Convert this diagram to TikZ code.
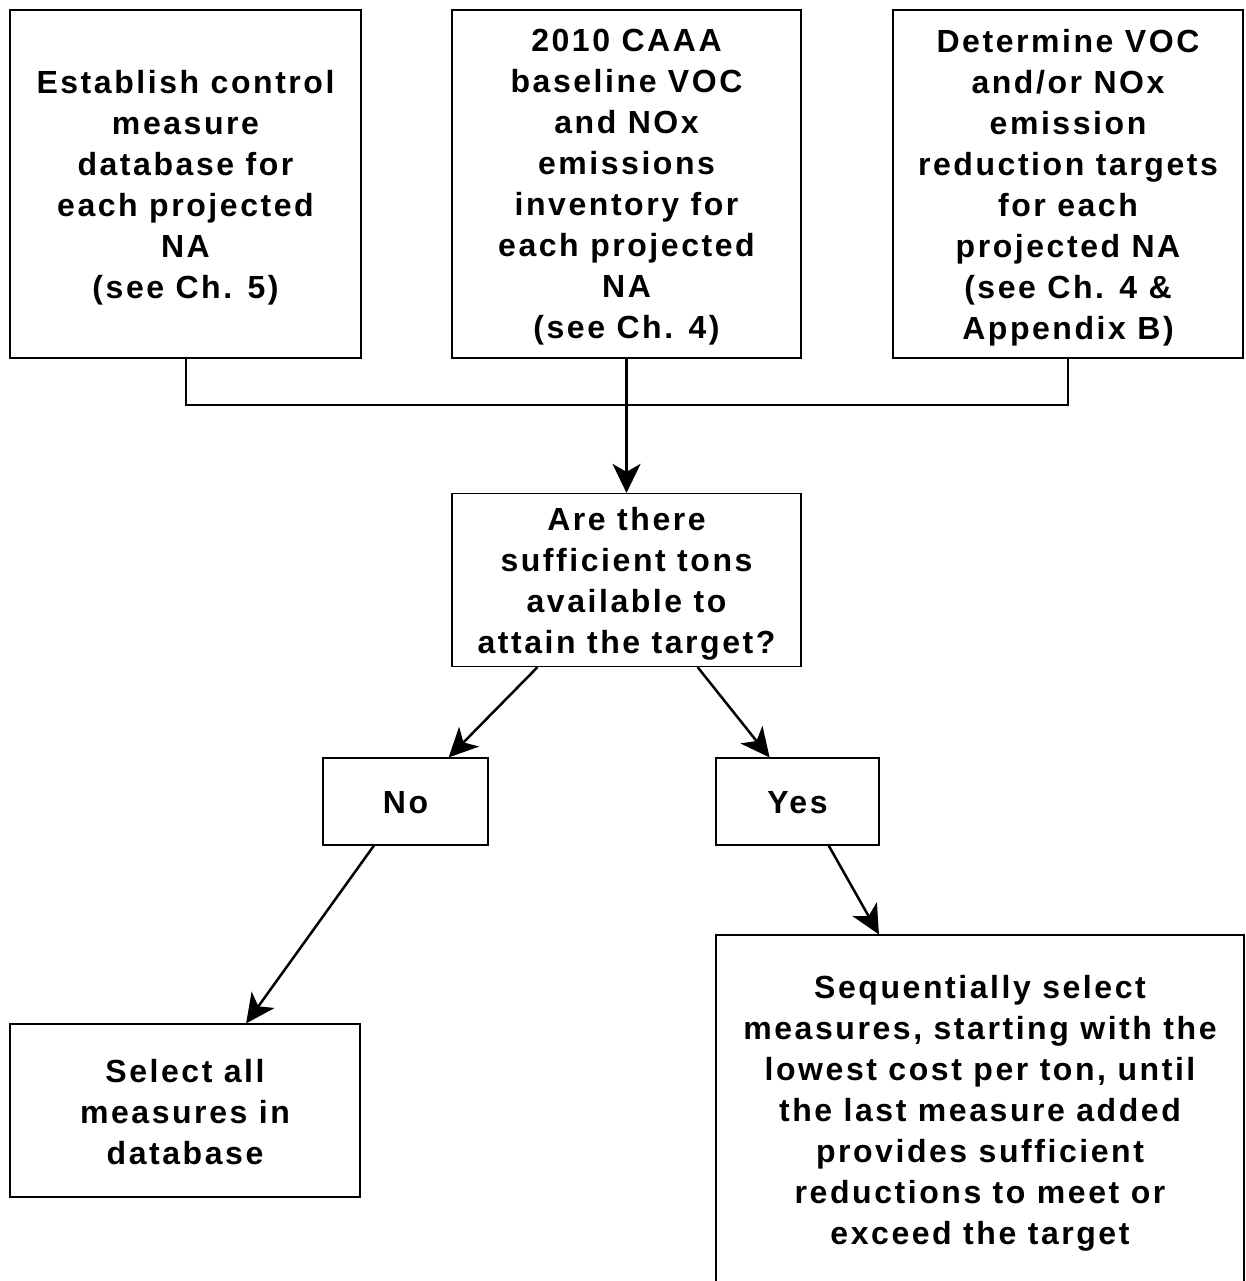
\documentclass[tikz,border=0pt]{standalone}
\usepackage{fontspec}
\setmainfont{Liberation Sans}[LetterSpace=8]
\usetikzlibrary{arrows.meta,calc}
\tikzset{
  frame/.style={draw=black, line width=1.2pt, inner sep=0pt},
  txt/.style={align=center, inner sep=0pt, font=\bfseries\fontsize{32}{41}\selectfont},
  conn/.style={line width=2pt},
  arr/.style={line width=2.5pt, -{Stealth[length=29pt,width=28pt,inset=8pt]}}
}
\begin{document}
\begin{tikzpicture}[x=1pt,y=-1pt]
\useasboundingbox (0,0) rectangle (1245,1281);
\node[frame, minimum width=351pt, minimum height=348pt] (A) at (185.5,184) {};
\node[txt] (At) at ([yshift=-3.5pt]A.center)
  {Establish control\\measure\\database for\\each projected\\NA\\(see Ch. 5)};
\node[frame, minimum width=349pt, minimum height=348pt] (B) at (626.5,184) {};
\node[txt] (Bt) at ([yshift=-3.5pt]B.center)
  {2010 CAAA\\baseline VOC\\and NOx\\emissions\\inventory for\\each projected\\NA\\(see Ch. 4)};
\node[frame, minimum width=350pt, minimum height=348pt] (C) at (1068,184) {};
\node[txt] (Ct) at ([yshift=-3.5pt]C.center)
  {Determine VOC\\and/or NOx\\emission\\reduction targets\\for each\\projected NA\\(see Ch. 4 \&\\Appendix B)};
\node[frame, minimum width=349pt, minimum height=173pt] (D) at (626.5,580) {};
\node[txt] (Dt) at ([yshift=-3.5pt]D.center)
  {Are there\\sufficient tons\\available to\\attain the target?};
\node[frame, minimum width=165pt, minimum height=87pt] (N) at (405.5,801.5) {};
\node[txt] (Nt) at ([yshift=-1pt]N.center) {No};
\node[frame, minimum width=163pt, minimum height=87pt] (Y) at (797.5,801.5) {};
\node[txt] (Yt) at ([yshift=-1pt]Y.center) {Yes};
\node[frame, minimum width=350pt, minimum height=173pt] (S) at (185,1110.5) {};
\node[txt] (St) at ([yshift=-2pt]S.center)
  {Select all\\measures in\\database};
\node[frame, minimum width=528pt, minimum height=350pt] (T) at (980,1110) {};
\node[txt] (Tt) at ([yshift=-3pt]T.center)
  {Sequentially select\\measures, starting with the\\lowest cost per ton, until\\the last measure added\\provides sufficient\\reductions to meet or\\exceed the target};
\coordinate (J) at (626.5,405);
\draw[conn] (A.south) -- (A.south |- J) -- (C.south |- J) -- (C.south);
\draw[arr] (B.south) -- (D.north);
\draw[arr] ($(D.south west)!0.246!(D.south east)$) -- ($(N.north west)!0.76!(N.north east)$);
\draw[arr] ($(D.south west)!0.703!(D.south east)$) -- ($(Y.north west)!0.33!(Y.north east)$);
\draw[arr] ($(Y.south west)!0.69!(Y.south east)$) -- ($(T.north west)!0.309!(T.north east)$);
\draw[arr] ($(N.south west)!0.31!(N.south east)$) -- ($(S.north west)!0.674!(S.north east)$);
\end{tikzpicture}
\end{document}
